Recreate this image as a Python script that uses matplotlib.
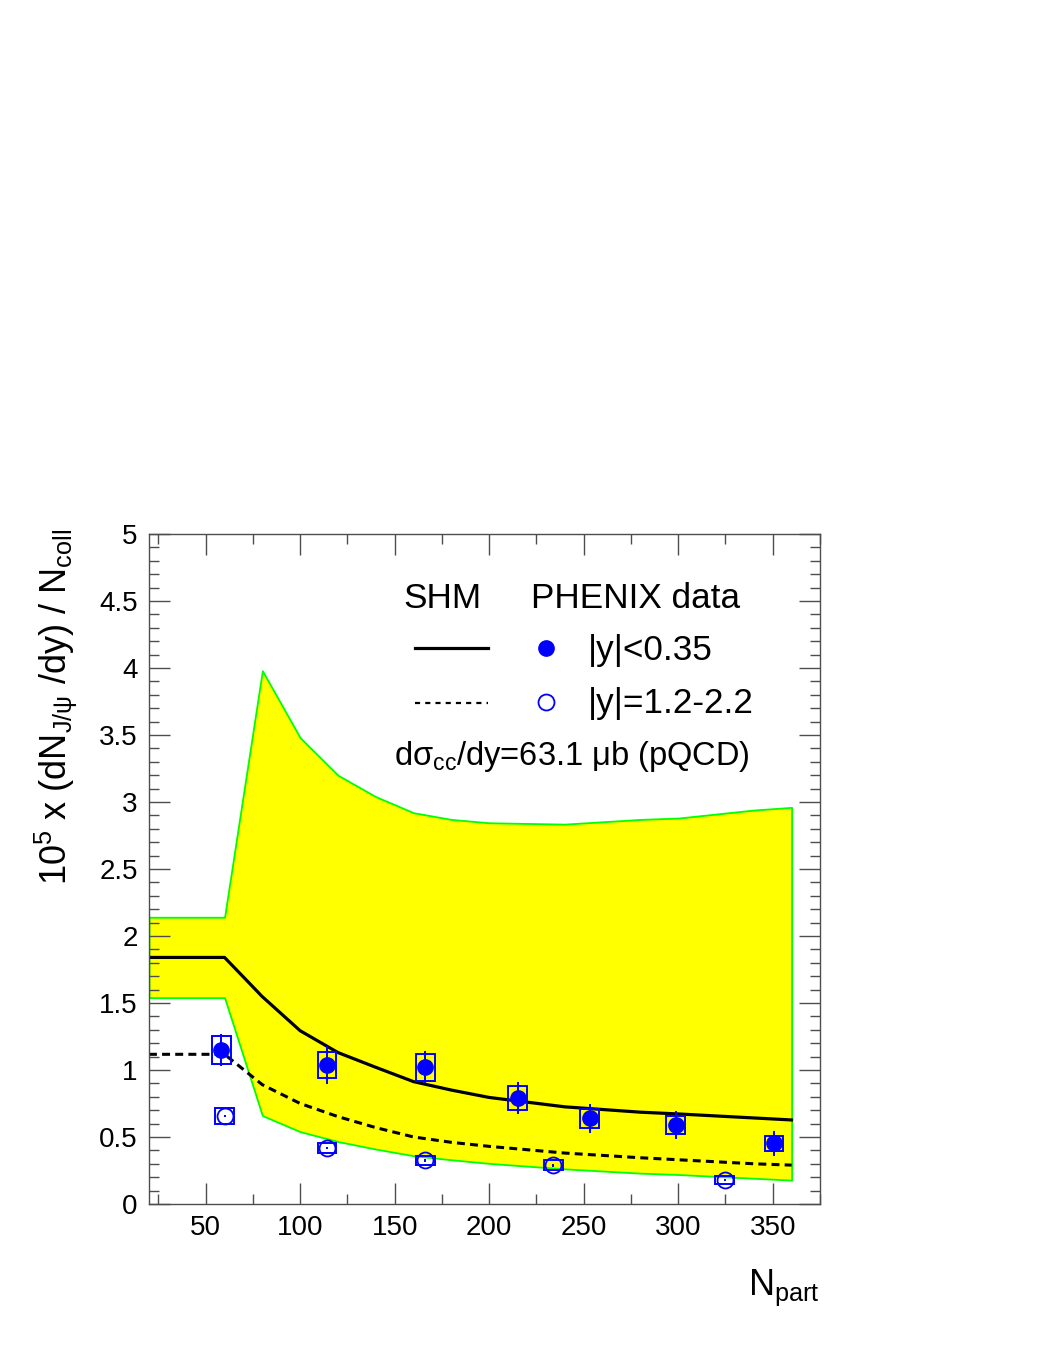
import matplotlib
matplotlib.use('Agg')
import matplotlib.pyplot as plt
from matplotlib.patches import Rectangle
from matplotlib.lines import Line2D
from matplotlib.ticker import MultipleLocator, FuncFormatter

plt.rcParams['font.family'] = ['Liberation Sans', 'DejaVu Sans']
plt.rcParams['mathtext.fontset'] = 'custom'
plt.rcParams['mathtext.rm'] = 'Liberation Sans'
plt.rcParams['mathtext.it'] = 'Liberation Sans:italic'
plt.rcParams['mathtext.bf'] = 'Liberation Sans:bold'

# ---- SHM model (statistical hadronization) ----
npart_model = [20, 60, 80, 100, 120, 140, 160, 180, 200, 240, 280, 300, 320, 340, 360]
shm_upper = [2.14, 2.14, 3.98, 3.48, 3.20, 3.04, 2.92, 2.87, 2.845, 2.835, 2.87, 2.88, 2.91, 2.94, 2.96]
shm_lower = [1.54, 1.54, 0.66, 0.54, 0.466, 0.41, 0.36, 0.33, 0.303, 0.262, 0.23, 0.22, 0.206, 0.192, 0.178]
shm_mid = [1.84, 1.84, 1.547, 1.293, 1.13, 1.02, 0.913, 0.85, 0.795, 0.725, 0.685, 0.672, 0.657, 0.642, 0.627]
shm_fwd = [1.117, 1.117, 0.89, 0.75, 0.652, 0.57, 0.50, 0.46, 0.43, 0.38, 0.345, 0.33, 0.315, 0.30, 0.29]

# ---- PHENIX data, |y|<0.35 ----
mid_x = [58.3, 114.2, 166.3, 215.1, 253.3, 298.7, 350.7]
mid_y = [1.15, 1.037, 1.02, 0.789, 0.64, 0.59, 0.453]
mid_stat = [0.12, 0.14, 0.12, 0.12, 0.108, 0.107, 0.095]
mid_sys = [0.105, 0.097, 0.10, 0.09, 0.072, 0.07, 0.057]

# ---- PHENIX data, |y|=1.2-2.2 ----
fwd_x = [60.2, 114.2, 166.3, 233.9, 324.5]
fwd_y = [0.657, 0.418, 0.326, 0.289, 0.179]
fwd_stat = [0.01, 0.01, 0.01, 0.01, 0.01]
fwd_sys = [0.058, 0.04, 0.032, 0.036, 0.029]

box_half_width = 5.0
blue = '#0000ff'

fig = plt.figure(figsize=(10.46, 13.54), dpi=100)
ax = fig.add_axes([0.1424, 0.1108, 0.6415, 0.4948])

ax.fill_between(npart_model, shm_lower, shm_upper, facecolor='#ffff00',
                edgecolor='#00ff00', linewidth=1.3, zorder=1)
ax.plot(npart_model, shm_mid, color='black', lw=2.3, zorder=2)
ax.plot(npart_model, shm_fwd, color='black', lw=2.2, ls=(0, (2.6, 1.7)), zorder=2)

for xs, ys, ss in ((mid_x, mid_y, mid_sys), (fwd_x, fwd_y, fwd_sys)):
    for x, y, s in zip(xs, ys, ss):
        ax.add_patch(Rectangle((x - box_half_width, y - s), 2 * box_half_width, 2 * s,
                               fill=False, edgecolor=blue, lw=1.4, zorder=3))

ax.errorbar(mid_x, mid_y, yerr=mid_stat, fmt='o', ms=11, color=blue, mec=blue,
            ecolor=blue, elinewidth=1.4, capsize=0, zorder=4)
ax.errorbar(fwd_x, fwd_y, yerr=fwd_stat, fmt='o', ms=11.5, mfc='none', mec=blue,
            mew=1.3, ecolor=blue, elinewidth=1.4, capsize=0, zorder=4)

ax.set_xlim(20, 375)
ax.set_ylim(0, 5)
ax.xaxis.set_major_locator(MultipleLocator(50))
ax.xaxis.set_minor_locator(MultipleLocator(25))
ax.yaxis.set_major_locator(MultipleLocator(0.5))
ax.yaxis.set_minor_locator(MultipleLocator(0.1))
ax.yaxis.set_major_formatter(FuncFormatter(lambda v, p: '%g' % v))
ax.tick_params(which='both', direction='in', top=True, right=True, color='0.3', width=1)
ax.tick_params(which='major', length=15, labelsize=20, pad=8)
ax.tick_params(which='minor', length=7.5)
for sp in ax.spines.values():
    sp.set_color('0.3')
    sp.set_linewidth(1.0)

# axis titles
ax.text(1.0, -0.136, r'N$_{\mathrm{part}}$', transform=ax.transAxes,
        ha='right', va='baseline', fontsize=26)
ax.text(-0.139, 1.008, r'$\mathrm{10}^{\mathrm{5}}$ x (dN$_{\mathrm{J/ψ}}$ /dy) / N$_{\mathrm{coll}}$',
        transform=ax.transAxes, rotation=90, ha='center', va='top', fontsize=26)

# legend
fs = 25.3
ax.text(0.3785, 0.8896, 'SHM', transform=ax.transAxes, fontsize=fs, va='baseline')
ax.text(0.570, 0.8896, 'PHENIX data', transform=ax.transAxes, fontsize=fs, va='baseline')
ax.add_line(Line2D([0.3964, 0.5052], [0.8299, 0.8299], transform=ax.transAxes,
                   color='black', lw=2.3))
ax.add_line(Line2D([0.3964, 0.5052], [0.7473, 0.7473], transform=ax.transAxes,
                   color='black', lw=1.6, ls=(0, (2.3, 2.3))))
ax.plot([0.5913], [0.8299], 'o', ms=11, color=blue, transform=ax.transAxes)
ax.plot([0.5913], [0.7490], 'o', ms=11.5, mfc='none', mec=blue, mew=1.3, transform=ax.transAxes)
ax.text(0.6545, 0.812, '|y|<0.35', transform=ax.transAxes, fontsize=fs, va='baseline')
ax.text(0.6545, 0.7328, '|y|=1.2-2.2', transform=ax.transAxes, fontsize=fs, va='baseline')
ax.text(0.3650, 0.655, r'd$\mathrm{σ}_{\mathrm{cc}}$/dy=63.1 μb (pQCD)', transform=ax.transAxes,
        fontsize=23.5, va='baseline')

fig.savefig('out.png', dpi=100)
